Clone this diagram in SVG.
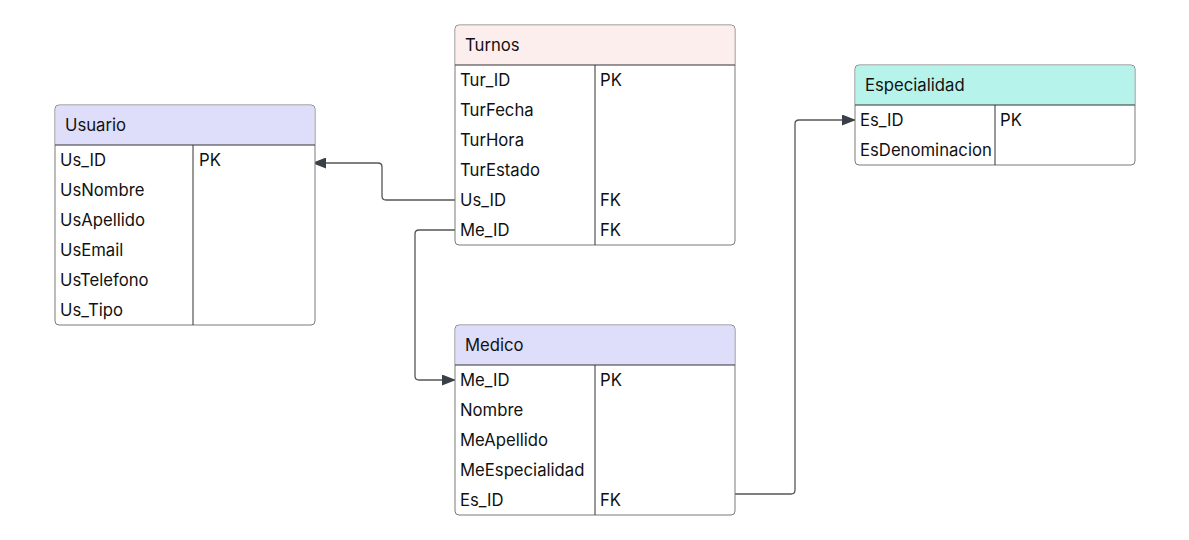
<svg xmlns="http://www.w3.org/2000/svg" width="1189" height="540" viewBox="0 0 1189 540">
<style>
.box{fill:#fff;stroke:#7a7a7a;stroke-width:1}
.hdr-blue{fill:#dedefa}
.hdr-pink{fill:#fdeeee}
.hdr-teal{fill:#b6f3ea}
.sep{stroke:#333;stroke-width:1;fill:none}
.t{font-family:Inter,"Liberation Sans",sans-serif;font-size:16.7px;fill:#111}
.edge{fill:none;stroke:#555;stroke-width:1.3}
</style>
<defs>
<marker id="arr" viewBox="0 0 14 11" refX="13" refY="5.5" markerWidth="14" markerHeight="11" markerUnits="userSpaceOnUse" orient="auto">
<path d="M0,0 L14,5.5 L0,11 z" fill="#3b4048"/>
</marker>
</defs>
<g id="connectors">
<path class="edge" d="M455,200 H386 Q382,200 382,196 V167 Q382,163 378,163 H313" marker-end="url(#arr)"/>
<path class="edge" d="M455,230 H419 Q415,230 415,234 V376 Q415,380 419,380 H455" marker-end="url(#arr)"/>
<path class="edge" d="M735,494 H791 Q795,494 795,490 V124 Q795,120 799,120 H855" marker-end="url(#arr)"/>
</g>
<g id="usuario">
<rect class="box" x="55" y="105" width="260" height="220" rx="4"/>
<path class="hdr-blue" d="M59,105.5 H311 Q314.5,105.5 314.5,109 V145 H55.5 V109 Q55.5,105.5 59,105.5 z"/>
<path class="sep" d="M55,145 H315 M193,145 V325"/>
<text class="t" x="65" y="131">Usuario</text>
<text class="t" x="60" y="166">Us_ID</text><text class="t" x="199" y="166">PK</text>
<text class="t" x="60" y="196">UsNombre</text>
<text class="t" x="60" y="226">UsApellido</text>
<text class="t" x="60" y="256">UsEmail</text>
<text class="t" x="60" y="286">UsTelefono</text>
<text class="t" x="60" y="316">Us_Tipo</text>
</g>
<g id="turnos">
<rect class="box" x="455" y="25" width="280" height="220" rx="4"/>
<path class="hdr-pink" d="M459,25.5 H731 Q734.5,25.5 734.5,29 V65 H455.5 V29 Q455.5,25.5 459,25.5 z"/>
<path class="sep" d="M455,65 H735 M595,65 V245"/>
<text class="t" x="465" y="51">Turnos</text>
<text class="t" x="460" y="86">Tur_ID</text><text class="t" x="600" y="86">PK</text>
<text class="t" x="460" y="116">TurFecha</text>
<text class="t" x="460" y="146">TurHora</text>
<text class="t" x="460" y="176">TurEstado</text>
<text class="t" x="460" y="206">Us_ID</text><text class="t" x="600" y="206">FK</text>
<text class="t" x="460" y="236">Me_ID</text><text class="t" x="600" y="236">FK</text>
</g>
<g id="especialidad">
<rect class="box" x="855" y="65" width="280" height="100" rx="4"/>
<path class="hdr-teal" d="M859,65.5 H1131 Q1134.5,65.5 1134.5,69 V105 H855.5 V69 Q855.5,65.5 859,65.5 z"/>
<path class="sep" d="M855,105 H1135 M995,105 V165"/>
<text class="t" x="865" y="91">Especialidad</text>
<text class="t" x="860" y="126">Es_ID</text><text class="t" x="1000" y="126">PK</text>
<text class="t" x="860" y="156">EsDenominacion</text>
</g>
<g id="medico">
<rect class="box" x="455" y="325" width="280" height="190" rx="4"/>
<path class="hdr-blue" d="M459,325.5 H731 Q734.5,325.5 734.5,329 V365 H455.5 V329 Q455.5,325.5 459,325.5 z"/>
<path class="sep" d="M455,365 H735 M595,365 V515"/>
<text class="t" x="465" y="351">Medico</text>
<text class="t" x="460" y="386">Me_ID</text><text class="t" x="600" y="386">PK</text>
<text class="t" x="460" y="416">Nombre</text>
<text class="t" x="460" y="446">MeApellido</text>
<text class="t" x="460" y="476">MeEspecialidad</text>
<text class="t" x="460" y="506">Es_ID</text><text class="t" x="600" y="506">FK</text>
</g>
</svg>
